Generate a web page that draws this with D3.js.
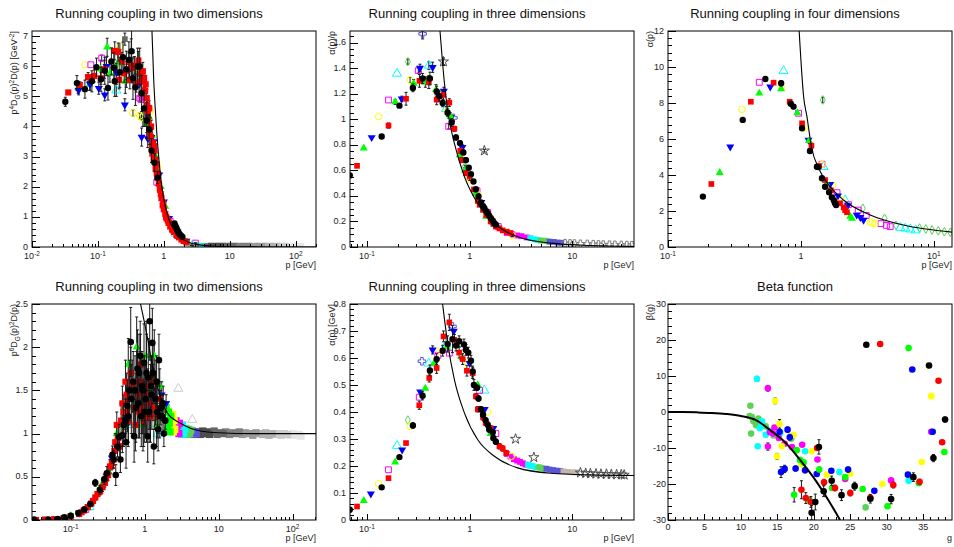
<!DOCTYPE html>
<html>
<head>
<meta charset="utf-8">
<script src="https://cdn.jsdelivr.net/npm/d3@7"></script>
<style>
  body { margin: 0; background: #fff; }
  text { font-family: "Liberation Sans", Arial, Helvetica, sans-serif; }
</style>
</head>
<body>
<svg id="chart" width="954" height="547"></svg>
<script>
// ---------- data: [p, value, error] ----------

// Panel 1: running coupling in 2d, p^4 D_G(p)^2 D(p)
const p1Black = [[0.032,4.82,0.15],[0.048,5.44,0.25],[0.0635,5.24,0.3],[0.081,5.5,0.35],[0.095,5.97,0.3],[0.111,5.57,0.4],[0.127,5.85,0.45],[0.142,5.28,0.4],[0.16,6.16,0.45],[0.174,5.95,0.5],[0.18,5.5,0.5],[0.215,5.8,0.5],[0.24,6.3,0.5],[0.27,5.9,0.6],[0.295,6.21,0.6],[0.324,6.5,1.05],[0.34,5.6,0.7],[0.37,5.3,0.6],[0.4,6.0,0.6],[0.43,6.0,0.6],[0.46,5.1,0.6],[0.5,4.6,0.6],[0.55,4.2,0.6],[0.6,3.9,0.5],[0.65,3.2,0.4],[0.72,2.8,0.3],[0.8,2.3,0.2],[1.45,0.78,0.05],[1.5,0.7,0.05],[1.55,0.63,0.05],[1.6,0.56,0.05],[1.65,0.5,0.05],[1.7,0.45,0.04],[1.8,0.39,0.04],[1.9,0.34,0.03]];
const p1Red = [[0.0355,5.13,0.05],[0.053,5.38,0.1],[0.071,5.64,0.15],[0.088,5.68,0.2],[0.111,5.6,0.2],[0.125,5.9,0.3],[0.18,6.51,0.3],[0.203,6.47,0.3],[0.21,5.55,0.3],[0.23,6.16,0.3],[0.25,5.77,0.3],[0.27,5.85,0.3],[0.295,6.14,0.3],[0.305,5.55,0.3],[0.33,5.95,0.3],[0.36,6.02,0.3],[0.38,5.44,0.3],[0.41,6.19,0.3],[0.43,5.75,0.3],[0.45,5.5,0.3],[0.48,5.83,0.3],[0.5,5.6,0.3],[0.52,5.19,0.3],[0.53,5.4,0.3],[0.55,4.94,0.3],[0.56,4.7,0.2],[0.57,4.5,0.25],[0.58,4.2,0.2],[0.6,4.6,0.25],[0.61,3.8,0.2],[0.63,3.65,0.2],[0.64,4.0,0.2],[0.66,3.3,0.2],[0.67,3.1,0.2],[0.68,3.45,0.2],[0.7,2.9,0.15],[0.71,3.35,0.15],[0.72,3.2,0.15],[0.74,2.9,0.15],[0.75,2.6,0.1],[0.77,2.75,0.1],[0.78,2.45,0.1],[0.8,2.3,0.1],[0.82,2.35,0.1],[0.84,2.1,0.1],[0.87,1.9,0.1],[0.9,1.75,0.08],[0.92,1.62,0.08],[0.96,1.38,0.08],[0.98,1.45,0.06],[1.0,1.25,0.05],[1.05,1.1,0.05],[1.08,1.0,0.05],[1.1,0.95,0.05],[1.15,0.88,0.04],[1.18,0.8,0.04],[1.25,0.68,0.03],[1.33,0.58,0.03],[1.4,0.55,0.03],[1.42,0.5,0.03],[1.55,0.4,0.02],[1.6,0.37,0.02],[1.7,0.32,0.02],[1.85,0.25,0.02],[1.9,0.28,0.02],[2.0,0.2,0.01],[2.2,0.15,0.01]];
const p1Green = [[0.05,5.3,0.2],[0.075,5.4,0.2],[0.11,5.9,0.3],[0.138,6.63,0.3],[0.152,5.77,0.3],[0.2,6.1,0.4],[0.26,5.5,0.4],[0.32,6.51,0.4],[0.4,5.8,0.4],[0.48,4.3,0.3],[0.55,4.1,0.3],[0.6,4.3,0.3],[0.66,3.7,0.2],[0.75,3.0,0.15],[0.83,2.5,0.1],[0.9,2.0,0.1],[1.05,1.35,0.05],[1.3,0.78,0.03],[1.6,0.48,0.02],[1.8,0.35,0.02],[2.3,0.16,0.01]];
const p1Blue = [[0.051,5.2,0.15],[0.076,5.4,0.2],[0.103,5.27,0.2],[0.127,5.05,0.2],[0.135,6.0,0.3],[0.19,5.8,0.3],[0.256,4.72,0.2],[0.3,5.9,0.4],[0.42,5.4,0.4],[0.46,3.65,0.3],[0.52,4.3,0.3],[0.57,3.6,0.3],[0.7,3.5,0.2],[0.85,2.4,0.1],[1.0,1.5,0.05],[1.2,0.95,0.05],[1.6,0.5,0.02],[2.2,0.2,0.01]];
const p1Yellow = [[0.0635,6.05,0],[0.215,6.66,0.1],[0.34,4.45,0.1],[0.43,4.35,0.1],[0.46,4.3,0.1],[0.62,4.5,0.2],[0.8,2.7,0.1],[1.4,0.6,0.03],[2.6,0.06,0.01]];
const p1Magenta = [[0.078,6.05,0],[0.114,6.27,0.1],[0.43,4.94,0.1],[0.45,4.9,0.1],[0.78,2.15,0.1],[1.25,0.85,0.03],[3.0,0.13,0.01]];
const p1Cyan = [[0.19,5.2,0.2],[0.45,5.6,0.2],[1.5,0.45,0.02],[2.7,0.04,0.01]];
const p1Grey = [[0.256,6.9,0.2]];
const p1TailGreen = [[3.1,0.05],[3.4,0.04]];
const p1TailCyan = [[3.7,0.03],[4.0,0.03]];
const p1TailGreen8 = [[4.3,0.03]];
const p1TailBlue9 = [[4.7,0.02]];
const p1TailG12 = [[5.2,0.04],[5.8,0.03],[6.5,0.04],[7.2,0.03],[8,0.04]];
const p1TailG13 = [[9,0.03],[10,0.04],[11,0.03],[12.5,0.04]];
const p1TailG14 = [[14,0.03],[16,0.04],[18,0.03],[20,0.04]];
const p1TailG15 = [[23,0.03],[26,0.04],[30,0.03],[34,0.04]];
const p1TailG16 = [[38,0.03],[43,0.04],[49,0.03],[55,0.04]];
const p1TailG17 = [[62,0.03],[70,0.04],[78,0.03]];
const p1TailG18 = [[88,0.03],[98,0.04],[110,0.03],[120,0.03]];
const p1CurveP = [0.66,0.7,0.74,0.78,0.85,0.93,1.05,1.2,1.4,1.75,2.3,3.5,5,10,30,203];
const p1CurveV = [7.17,5.6,4.6,3.8,2.8,2.0,1.35,0.9,0.6,0.33,0.17,0.07,0.035,0.01,0.002,0];

// Panel 2: running coupling in 3d, alpha(p)/p
const p2Black = [[0.068,0.56,0.01],[0.139,0.865,0.01],[0.207,1.106,0.01],[0.28,1.245,0.03],[0.348,1.318,0.04],[0.41,1.318,0.05],[0.477,1.218,0.04],[0.507,1.18,0.04],[0.546,1.127,0.03],[0.61,1.05,0.03],[0.668,0.975,0.03],[0.736,0.857,0.02],[0.805,0.813,0.02],[0.868,0.74,0.02],[0.92,0.68,0.02],[0.98,0.62,0.01],[1.03,0.57,0.01],[1.09,0.512,0.01],[1.15,0.452,0.01],[1.22,0.395,0.01],[1.29,0.348,0.01],[1.35,0.32,0.01],[1.39,0.303,0.01],[1.45,0.28,0.01],[1.5,0.264,0.01],[1.55,0.245,0.01],[1.61,0.225,0.01],[1.68,0.205,0.01],[1.74,0.186,0.01],[1.8,0.175,0.01]];
const p2Red = [[0.08,0.635,0.01],[0.162,0.95,0.02],[0.24,1.16,0.05],[0.324,1.3,0.05],[0.40,1.29,0.05],[0.477,1.153,0.04],[0.555,1.19,0.04],[0.634,1.13,0.03],[0.71,0.925,0.02],[0.81,0.753,0.02],[0.84,0.68,0.02],[0.92,0.578,0.02],[1.0,0.55,0.01],[1.1,0.45,0.01],[1.2,0.36,0.01],[1.25,0.33,0.01],[1.35,0.29,0.01],[1.45,0.25,0.01],[1.6,0.2,0.01],[1.7,0.18,0.01],[1.8,0.16,0.005],[1.95,0.145,0.005],[2.1,0.13,0.005],[2.3,0.12,0.005],[2.5,0.11,0.005]];
const p2Green = [[0.093,0.774,0],[0.188,1.135,0.02],[0.285,1.28,0.03],[0.37,1.29,0.04],[0.47,1.23,0.04],[0.65,1.02,0.03],[0.8,0.72,0.02],[0.9,0.6,0.02],[1.15,0.42,0.01],[1.45,0.24,0.01],[1.7,0.19,0.01]];
const p2Blue = [[0.111,0.857,0],[0.218,1.16,0.02],[0.328,1.40,0.03],[0.436,1.406,0.04],[0.56,1.22,0.03],[0.85,0.78,0.02],[1.3,0.35,0.01]];
const p2Yellow = [[0.13,1.02,0],[0.263,1.307,0.02],[0.38,1.3,0.03],[0.6,1.06,0.02],[1.0,0.53,0.01],[1.2,0.41,0.01],[2.6,0.09,0.01]];
const p2Magenta = [[0.162,1.15,0],[0.316,1.38,0.02],[0.625,0.944,0.02],[1.18,0.44,0.01],[1.5,0.27,0.01],[1.9,0.16,0.01]];
const p2Cyan = [[0.196,1.357,0],[0.40,1.42,0.03],[0.59,1.08,0.02],[1.4,0.3,0.01]];
const p2Diamond = [[0.25,1.45,0.02],[0.9,0.63,0.01]];
const p2Cross = [[0.348,1.668,0.04],[0.694,1.01,0.02]];
const p2Star = [[1.39,0.753,0.01],[0.555,1.45,0.03]];
const p2TailMagenta = [[2.3,0.11],[2.6,0.1],[2.9,0.09],[3.2,0.085],[3.6,0.075]];
const p2TailCyan = [[3.9,0.07],[4.3,0.06],[4.6,0.055]];
const p2TailGreen8 = [[4.9,0.05],[5.3,0.05],[5.7,0.045]];
const p2TailBlue9 = [[6.0,0.042],[6.6,0.04],[7.2,0.035],[7.8,0.033]];
const p2TailGrey = [[8.5,0.03],[9.5,0.028],[10.5,0.027],[12,0.025],[14,0.024],[16,0.022],[18,0.02],[20,0.019],[23,0.018],[26,0.017],[30,0.016],[34,0.015],[38,0.014]];
const p2CurveP = [0.514,0.55,0.61,0.71,0.89,1.2,1.74,2.93,6.2,15,40];
const p2CurveV = [1.69,1.4,1.07,0.81,0.55,0.34,0.186,0.08,0.03,0.012,0.005];

// Panel 3: running coupling in 4d, alpha(p)
const p3Black = [[0.183,2.8],[0.365,7.06],[0.54,9.33,0.12],[0.71,9.1,0.15],[0.84,7.96],[0.88,7.8,0.12],[1.02,6.6],[1.17,5.33],[1.32,4.46],[1.35,4.44],[1.44,3.82],[1.52,3.35],[1.63,3.04],[1.71,2.76],[1.77,2.6],[1.8,2.45],[1.84,2.33]];
const p3Red = [[0.212,3.5],[0.42,8.07],[0.623,9.13],[0.823,8.07],[1.02,6.87],[1.2,5.63],[1.37,4.5],[1.52,3.72],[1.68,3.15],[1.97,2.43],[2.1,2.2],[2.15,2.05],[2.22,1.93]];
const p3Green = [[0.245,4.13],[0.486,8.54],[0.71,8.78],[0.94,7.45],[1.15,5.9],[1.56,3.5],[2.35,1.7],[2.42,1.59]];
const p3Blue = [[0.294,5.57],[0.588,8.9],[1.14,5.94],[1.66,3.48],[1.9,2.85],[2.25,2.3],[2.63,1.78],[2.8,1.65],[2.96,1.5]];
const p3Yellow = [[0.36,7.65],[0.71,8.9],[1.06,6.6],[1.44,4.58],[1.73,3.4],[2.0,2.65],[3.32,1.37],[3.45,1.35],[3.6,1.3]];
const p3Magenta = [[0.486,9.15],[0.96,7.43],[1.44,4.6],[1.87,3.02],[2.28,2.35],[2.7,2.05],[3.1,1.75],[4.0,1.3],[4.4,1.2],[4.7,1.13]];
const p3Cyan = [[0.74,9.78],[1.48,4.45],[2.15,2.6],[5.6,1.07],[6.1,1.03],[6.65,0.98],[7.3,0.93]];
const p3Diamond = [[1.46,8.17,0.15],[2.92,2.15],[4.26,1.59],[5.2,1.2],[7.8,1.05],[8.7,1.0],[9.7,0.95],[10.8,0.9],[12,0.85],[13.3,0.82]];
const p3CurveP = [0.97,1.05,1.11,1.2,1.38,1.66,2.09,3.32,5.9,13.9];
const p3CurveV = [12,8.3,7.24,5.57,4.28,3.35,2.61,1.78,1.22,0.82];

// Panel 4: running coupling in 2d, p^6 D_G(p)^2 D(p)
const p4Black = [[0.032,0.004,0.005],[0.05,0.005,0.005],[0.067,0.01,0.01],[0.082,0.03,0.01],[0.1,0.05,0.01],[0.127,0.08,0.02],[0.153,0.12,0.03],[0.184,0.185,0.03],[0.215,0.43,0.04],[0.248,0.35,0.05],[0.284,0.47,0.06],[0.308,0.54,0.08],[0.367,0.756,0.1],[0.38,0.7,0.1],[0.407,0.52,0.12],[0.43,0.85,0.12],[0.45,0.96,0.15],[0.47,0.7,0.15],[0.5,0.98,0.2],[0.52,1.1,0.25],[0.55,1.15,0.25],[0.56,0.9,0.3],[0.585,1.32,0.3],[0.6,1.2,0.3],[0.62,1.5,0.35],[0.648,2.06,0.4],[0.66,1.4,0.4],[0.7,1.6,0.35],[0.72,0.97,0.3],[0.74,1.5,0.4],[0.76,1.3,0.4],[0.8,1.75,0.45],[0.82,1.35,0.4],[0.84,1.7,0.45],[0.87,1.9,0.4],[0.9,1.2,0.35],[0.92,1.55,0.4],[0.95,1.5,0.4],[0.98,1.82,0.45],[1.0,1.25,0.35],[1.03,1.4,0.4],[1.06,1.7,0.45],[1.1,0.97,0.3],[1.12,1.65,0.45],[1.15,1.25,0.35],[1.17,2.3,0.45],[1.22,1.55,0.35],[1.25,1.45,0.4],[1.27,2.05,0.4],[1.3,1.7,0.35],[1.33,0.85,0.2],[1.4,1.4,0.3],[1.45,1.6,0.3],[1.48,1.25,0.3],[1.52,1.05,0.25],[1.56,1.85,0.3],[1.6,1.2,0.25],[1.65,1.3,0.2],[1.72,1.2,0.2],[1.78,1.35,0.2],[1.82,1.0,0.15],[1.9,1.15,0.1]];
const p4Red = [[0.034,0.0,0.005],[0.045,0.005,0.005],[0.06,0.01,0.005],[0.08,0.02,0.01],[0.1,0.04,0.01],[0.13,0.07,0.02],[0.14,0.09,0.02],[0.15,0.11,0.02],[0.17,0.15,0.02],[0.19,0.19,0.03],[0.2,0.22,0.03],[0.215,0.26,0.03],[0.23,0.3,0.03],[0.25,0.33,0.04],[0.27,0.38,0.05],[0.29,0.43,0.05],[0.3,0.48,0.06],[0.32,0.52,0.06],[0.34,0.62,0.08],[0.36,0.66,0.08],[0.38,0.7,0.1],[0.39,0.8,0.1],[0.4,0.9,0.1],[0.42,1.1,0.15],[0.44,0.95,0.15],[0.46,0.85,0.15],[0.48,1.15,0.2],[0.5,1.35,0.2],[0.52,1.25,0.2],[0.55,1.6,0.25],[0.57,1.45,0.25],[0.58,1.25,0.2],[0.6,1.15,0.3],[0.62,1.4,0.3],[0.65,1.7,0.3],[0.68,1.55,0.3],[0.72,1.3,0.3],[0.75,1.1,0.3],[0.78,1.6,0.35],[0.8,1.45,0.35],[0.85,1.25,0.3],[0.88,1.8,0.35],[0.9,1.6,0.3],[0.93,1.3,0.3],[0.97,1.15,0.3],[1.0,1.55,0.35],[1.06,1.2,0.3],[1.1,1.45,0.3],[1.15,1.35,0.3],[1.2,1.2,0.3],[1.25,1.6,0.3],[1.3,1.45,0.3],[1.35,1.3,0.25],[1.42,1.6,0.25],[1.5,1.2,0.2],[1.6,1.4,0.2],[1.7,1.3,0.15]];
const p4Green = [[0.1,0.05],[0.17,0.14],[0.26,0.4],[0.33,0.55],[0.42,1.0,0.1],[0.52,1.1,0.15],[0.6,1.8,0.3],[0.7,1.3,0.3],[0.78,2.0,0.35],[0.87,1.6,0.35],[0.95,1.1,0.3],[1.05,1.9,0.4],[1.2,1.5,0.3],[1.35,1.9,0.3],[1.45,1.1,0.25],[1.6,1.55,0.2],[1.75,1.3,0.15]];
const p4Blue = [[0.13,0.08],[0.36,0.72,0.05],[0.55,1.2,0.2],[0.9,1.3,0.3],[1.3,1.5,0.3],[1.7,1.45,0.15],[1.95,1.35,0.1]];
const p4Yellow = [[0.25,0.35],[0.45,1.05],[0.9,1.4]];
const p4Magenta = [[0.16,0.12],[0.5,0.92],[1.05,1.3]];
const p4Cyan = [[0.18,0.15],[0.6,1.1],[1.5,1.0]];
const p4LightTri = [[2.85,1.52],[4.4,1.16]];
const p4BandGreen = [[1.95,1.3],[2.0,1.15],[2.05,1.05],[2.1,1.25],[2.15,1.12],[2.2,1.02],[2.25,1.2]];
const p4BandYellow = [[2.35,1.1],[2.4,1.22],[2.45,1.02],[2.5,1.15],[2.55,1.05]];
const p4BandMagenta = [[2.65,1.15],[2.7,1.04],[2.8,1.1],[2.9,1.0],[2.95,1.12]];
const p4BandCyan = [[3.05,1.08],[3.15,0.99],[3.25,1.1],[3.35,1.0],[3.5,1.05]];
const p4BandGreen8 = [[3.6,1.06],[3.75,0.99],[3.9,1.05],[4.05,1.0],[4.2,1.04]];
const p4BandBlue9 = [[4.4,1.03],[4.6,0.99],[4.8,1.02],[5.0,1.0]];
const p4BandG12 = [[5.3,1.02],[5.7,0.99],[6.1,1.03],[6.5,1.0],[7,1.02],[7.5,0.99]];
const p4BandG13 = [[8,1.01],[8.7,1.03],[9.5,0.99],[10.5,1.01],[11.5,1.0]];
const p4BandG14 = [[12.5,1.02],[14,0.99],[15.5,1.01],[17,1.0],[19,1.02]];
const p4BandG15 = [[21,0.99],[23,1.01],[26,1.0],[29,0.98],[32,1.01]];
const p4BandG16 = [[35,1.0],[39,0.99],[43,1.01],[48,0.98],[53,1.0]];
const p4BandG17 = [[58,0.99],[64,1.0],[70,0.98],[77,1.0],[85,0.99]];
const p4BandG18 = [[93,0.98],[102,1.0],[112,0.98],[122,0.99],[130,0.97]];
const p4CurveP = [0.88,1.08,1.3,1.6,2.02,3.05,5.67,10,30,207];
const p4CurveV = [2.5,2.13,1.75,1.45,1.24,1.12,1.03,1.01,1.0,1.0];

// Panel 5: running coupling in 3d, alpha(p)
const p5Black = [[0.068,0.038],[0.139,0.121],[0.207,0.233],[0.28,0.35,0.01],[0.348,0.46,0.015],[0.41,0.554,0.02],[0.477,0.596,0.02],[0.546,0.627,0.02],[0.61,0.652,0.03],[0.68,0.67,0.05],[0.736,0.646,0.02],[0.79,0.662,0.02],[0.88,0.65,0.02],[0.92,0.63,0.02],[0.97,0.62,0.02],[1.03,0.59,0.02],[1.07,0.55,0.02],[1.1,0.5,0.02],[1.18,0.49,0.01],[1.22,0.45,0.01],[1.29,0.41,0.01],[1.35,0.39,0.01],[1.43,0.37,0.01],[1.5,0.353,0.01],[1.55,0.335,0.01],[1.68,0.325,0.01],[1.7,0.304,0.01],[1.8,0.29,0.01]];
const p5Red = [[0.08,0.05],[0.162,0.155],[0.24,0.285],[0.323,0.425,0.015],[0.404,0.526,0.015],[0.477,0.563,0.02],[0.556,0.68,0.02],[0.634,0.732,0.03],[0.71,0.667,0.02],[0.79,0.62,0.02],[0.855,0.596,0.02],[0.94,0.553,0.02],[1.07,0.544,0.02],[1.15,0.458,0.01],[1.2,0.41,0.01],[1.35,0.38,0.01],[1.43,0.36,0.01],[1.6,0.34,0.01],[1.95,0.273,0.01],[2.1,0.265,0.01],[2.27,0.248,0.01]];
const p5Green = [[0.093,0.072],[0.188,0.214],[0.37,0.487],[0.45,0.58],[0.6,0.64],[0.85,0.6],[1.2,0.5],[1.6,0.32]];
const p5Blue = [[0.109,0.097],[0.22,0.26],[0.33,0.475],[0.436,0.63,0.015],[0.7,0.7],[1.0,0.58],[1.4,0.41],[1.7,0.34]];
const p5Yellow = [[0.13,0.134],[0.263,0.347],[0.51,0.625],[0.95,0.58],[1.5,0.4],[2.55,0.236]];
const p5Magenta = [[0.162,0.186],[0.323,0.455],[0.49,0.61],[0.634,0.618],[1.25,0.48],[1.8,0.32]];
const p5Cyan = [[0.196,0.275],[0.4,0.58],[0.59,0.65],[1.39,0.48]];
const p5Diamond = [[0.25,0.37]];
const p5Cross = [[0.343,0.588],[0.68,0.717]];
const p5Star = [[2.8,0.30],[4.22,0.232]];
const p5TailMagenta = [[2.3,0.245],[2.5,0.235],[2.7,0.225],[2.9,0.22],[3.1,0.215],[3.3,0.21],[3.5,0.205]];
const p5TailCyan = [[3.7,0.205],[3.9,0.2],[4.1,0.2],[4.4,0.195]];
const p5TailGreen8 = [[4.7,0.195],[5.0,0.193],[5.3,0.19]];
const p5TailBlue9 = [[5.6,0.19],[6.0,0.187],[6.5,0.185],[7.0,0.183],[7.6,0.182]];
const p5TailTan = [[8.2,0.18],[9,0.178],[10,0.177],[11,0.176]];
const p5TailGrey = [[12,0.175],[13.5,0.173],[15,0.172],[17,0.171],[19,0.17],[21.5,0.17],[24,0.169],[27,0.168],[30,0.168],[32,0.167]];
const p5CurveP = [0.545,0.61,0.71,0.89,1.2,1.74,2.93,6.2,15,40];
const p5CurveV = [0.8,0.656,0.52,0.396,0.297,0.236,0.193,0.173,0.167,0.165];

// Panel 6: beta function, [g, beta, error]
const p6Black = [[27.2,18.7,0.5],[35.8,12.9,0.6],[38.0,-2.1,0.7],[36.4,-12.8,1.0],[33.65,-18.1,1.2],[30.6,-24.2,1.3],[27.75,-24.1,1.2],[25.6,-20.6,1.1],[23.8,-23.1,1.5],[22.45,-19.1,1.3],[21.35,-22.0,1.5],[20.7,-9.7,2.0],[20.2,-25.0,2.2],[19.7,-28.0,2.0]];
const p6Red = [[29.1,18.9,0.4],[37.1,8.7,0.5],[37.6,-8.4,0.5],[34.5,-19.4,0.7],[30.9,-20.3,0.8],[27.75,-23.8,0.7],[25.0,-22.5,0.8],[22.9,-21.1,0.8],[21.4,-19.5,0.8],[20.45,-10.0,0.6],[19.6,-25.0,1.5],[18.9,-23.9,1.5],[18.3,-21.6,2.5]];
const p6Green = [[33.0,17.8,0.4],[37.9,-11.1,0.5],[34.4,-19.8,0.5],[30.1,-26.2,0.6],[26.7,-21.4,0.6],[24.3,-18.1,0.7],[22.5,-21.1,0.6],[20.75,-16.0,0.7],[19.4,-24.6,0.8],[18.6,-14.0,0.6],[18.1,-13.3,0.6],[17.65,-10.6,0.7],[17.3,-23.0,2.0]];
const p6Green8 = [[27.1,-26.5,0.3],[16.9,-7.4,0.4],[14.5,-6.5,0.4],[13.4,-4.0,0.3],[12.4,-1.8,0.3],[12.1,-3.7,0.3],[11.9,-2.8,0.3],[11.7,-2.5,0.3],[11.5,-1.4,0.3],[11.2,-1.1,0.3],[11.3,1.75,0.3],[11.4,-6.0,0.3]];
const p6Blue = [[33.5,11.8,0.4],[36.3,-5.5,0.5],[32.9,-17.4,0.5],[28.3,-21.9,0.5],[24.7,-16.0,0.7],[22.4,-16.3,0.6],[20.4,-17.2,0.7],[18.8,-16.2,0.7],[17.5,-15.7,0.7],[16.7,-7.0,0.8],[16.4,-4.9,0.7],[16.0,-15.8,1.0],[15.5,-16.7,1.5],[15.3,-5.5,0.6]];
const p6Yellow = [[36.1,4.4,0.4],[34.8,-13.9,0.4],[29.4,-20.0,0.4],[25.0,-17.1,0.4],[21.8,-17.4,0.4],[19.7,-10.9,0.4],[18.3,-14.6,0.4],[17.2,-6.3,0.4],[15.6,-9.5,0.5],[15.3,-3.3,1.2],[14.95,-12.3,0.8],[14.7,3.1,0.8]];
const p6Magenta = [[36.1,-5.5,0.4],[30.6,-19.0,0.4],[24.3,-18.6,0.4],[20.5,-13.2,0.4],[18.4,-9.1,0.4],[17.0,-9.7,0.4],[16.0,-8.8,0.4],[15.2,-7.2,0.5],[14.6,-4.3,0.5],[14.4,-6.0,0.4],[14.0,-5.6,0.4],[13.7,-9.6,1.0],[13.7,6.6,0.8]];
const p6Cyan = [[33.0,-19.1,0.4],[23.5,-16.7,0.4],[18.8,-10.9,0.4],[15.4,-5.8,0.4],[13.9,-5.2,0.4],[13.4,-6.3,0.4],[12.9,-2.6,0.4],[12.8,-3.8,0.4],[12.6,-4.5,0.4],[12.2,9.2,0.7],[12.3,-9.5,0.4]];
const p6CurveG = [0,2,4,6,8,10,12,14,16,18,20,22,23.6];
const p6CurveV = [0,-0.02,-0.1,-0.25,-0.55,-1.1,-2.2,-5,-8.3,-13,-18.3,-24.5,-30];

// tick labels of the log axes: [value, mantissa, exponent]
const xLabels2d = [[0.01,"10","-2"],[0.1,"10","-1"],[1,"1",""],[10,"10",""],[100,"10","2"]];
const xLabels3d = [[0.1,"10","-1"],[1,"1",""],[10,"10",""]];
const xLabels4d = [[0.1,"10","-1"],[1,"1",""],[10,"10","1"]];
const xLabels2dB = [[0.1,"10","-1"],[1,"1",""],[10,"10",""],[100,"10","2"]];

// ---------- styles ----------
const col = {
  k: "#000000", r: "#ff0000", g: "#00ff00", b: "#0000ff", y: "#ffff00", m: "#ff00ff", c: "#00ffff",
  g8: "#59d454", b9: "#5954d8", tan: "#c0b6ac",
  g12: "#4c4c4c", g13: "#666666", g14: "#7f7f7f", g15: "#999999", g16: "#b2b2b2", g17: "#cccccc", g18: "#e5e5e5"
};
const shapes = {
  circle:  { t: d3.symbolCircle,   a: 32, fill: true },
  square:  { t: d3.symbolSquare,   a: 32, fill: true },
  triUp:   { t: d3.symbolTriangle, a: 28, fill: true },
  triDown: { t: d3.symbolTriangle, a: 28, fill: true, rot: true },
  oCircle: { t: d3.symbolCircle,   a: 34, fill: false },
  oSquare: { t: d3.symbolSquare,   a: 34, fill: false },
  oTri:    { t: d3.symbolTriangle, a: 36, fill: false },
  oDiamond:{ t: d3.symbolDiamond,  a: 22, fill: false },
  oCross:  { t: d3.symbolCross,    a: 32, fill: false },
  oStar:   { t: d3.symbolStar,     a: 32, fill: false }
};

const svg = d3.select("#chart");

// text with super/subscripts, parts = [[text, shift]] where shift 1 = sup, -1 = sub
function rich(sel, parts) {
  let prev = 0;
  parts.forEach(([t, s]) => {
    const ts = sel.append("tspan").text(t);
    const dy = (prev - s) * 3.3;
    if (dy) ts.attr("dy", dy);
    if (s) ts.attr("font-size", "0.72em");
    prev = s;
  });
}

function linTicks(d, maj, min) {
  const out = [], r = Math.round(maj / min);
  for (let n = Math.ceil(d[0] / min - 1e-9); n <= Math.floor(d[1] / min + 1e-9); n++) {
    out.push([n * min, ((n % r) + r) % r === 0]);
  }
  return out;
}

function drawPanel(P) {
  const xs = (P.log ? d3.scaleLog() : d3.scaleLinear()).domain(P.xd).range([P.L, P.R]);
  const ys = d3.scaleLinear().domain(P.yd).range([P.B, P.T]);
  const g = svg.append("g");
  const clipId = "clip-" + P.id;
  g.append("clipPath").attr("id", clipId).append("rect")
    .attr("x", P.L).attr("y", P.T).attr("width", P.R - P.L).attr("height", P.B - P.T);
  const plot = g.append("g").attr("clip-path", `url(#${clipId})`);

  P.series.forEach(s => {
    const sh = shapes[s.m];
    const eb = s.d.filter(d => d[2] > 0);
    const eg = plot.append("g").attr("stroke", "#1a1a1a").attr("stroke-width", 1);
    eg.selectAll("line.stem").data(eb).join("line").attr("class", "stem")
      .attr("x1", d => xs(d[0])).attr("x2", d => xs(d[0]))
      .attr("y1", d => ys(d[1] - d[2])).attr("y2", d => ys(d[1] + d[2]));
    eg.selectAll("line.cap").data(eb.flatMap(d => [[d[0], d[1] - d[2]], [d[0], d[1] + d[2]]]))
      .join("line").attr("class", "cap")
      .attr("x1", d => xs(d[0]) - 1.5).attr("x2", d => xs(d[0]) + 1.5)
      .attr("y1", d => ys(d[1])).attr("y2", d => ys(d[1]));
    plot.append("g").selectAll("path").data(s.d).join("path")
      .attr("transform", d => `translate(${xs(d[0])},${ys(d[1])})` + (sh.rot ? " rotate(180)" : ""))
      .attr("d", d3.symbol().type(sh.t).size(s.a || sh.a))
      .attr("fill", sh.fill ? s.c : "none")
      .attr("stroke", sh.fill ? "none" : s.c)
      .attr("stroke-width", 1);
  });

  if (P.curve) {
    const pts = P.curve[0].map((x, i) => [x, P.curve[1][i]]);
    plot.append("path").datum(pts)
      .attr("fill", "none").attr("stroke", "#000").attr("stroke-width", P.curveW || 1.1)
      .attr("d", d3.line().x(d => xs(d[0])).y(d => ys(d[1])).curve(d3.curveMonotoneX));
  }

  // frame
  g.append("rect").attr("x", P.L).attr("y", P.T).attr("width", P.R - P.L).attr("height", P.B - P.T)
    .attr("fill", "none").attr("stroke", "#000").attr("stroke-width", 1);

  // x ticks
  let xt = [];
  if (P.log) {
    for (let k = Math.floor(Math.log10(P.xd[0])); k <= Math.ceil(Math.log10(P.xd[1])); k++) {
      for (let m = 1; m <= 9; m++) {
        const v = m * Math.pow(10, k);
        if (v >= P.xd[0] * 0.999 && v <= P.xd[1] * 1.001) xt.push([v, m === 1]);
      }
    }
  } else xt = linTicks(P.xd, P.xMaj, P.xMin);
  g.append("g").attr("stroke", "#000").selectAll("line").data(xt).join("line")
    .attr("x1", d => Math.round(xs(d[0])) + 0.5).attr("x2", d => Math.round(xs(d[0])) + 0.5)
    .attr("y1", P.B).attr("y2", d => P.B - (d[1] ? 6 : 3));

  const yt = linTicks(P.yd, P.yMaj, P.yMin);
  g.append("g").attr("stroke", "#000").selectAll("line").data(yt).join("line")
    .attr("y1", d => Math.round(ys(d[0])) + 0.5).attr("y2", d => Math.round(ys(d[0])) + 0.5)
    .attr("x1", P.L).attr("x2", d => P.L + (d[1] ? 8 : 4));

  // labels
  const lab = g.append("g").attr("font-size", 9).attr("fill", "#222");
  lab.selectAll("text.yl").data(yt.filter(d => d[1])).join("text").attr("class", "yl")
    .attr("x", P.L - P.ylOff).attr("y", d => ys(d[0]) + 2.6).attr("text-anchor", "end")
    .text(d => String(+d[0].toFixed(3)));
  const xlBase = P.B + P.xlOff;
  if (P.xLabels) {
    P.xLabels.forEach(([v, m, e]) => {
      const t = lab.append("text").attr("x", xs(v)).attr("y", xlBase).attr("text-anchor", "middle");
      rich(t, e ? [[m, 0], [e, 1]] : [[m, 0]]);
    });
  } else {
    lab.selectAll("text.xl").data(xt.filter(d => d[1])).join("text").attr("class", "xl")
      .attr("x", d => xs(d[0])).attr("y", xlBase).attr("text-anchor", "middle")
      .text(d => String(+d[0].toFixed(3)));
  }

  // titles
  g.append("text").attr("x", P.ox + 159).attr("y", P.oy + 18).attr("text-anchor", "middle")
    .attr("font-size", 13).attr("fill", "#111").text(P.title);
  g.append("text").attr("x", P.R).attr("y", P.B + 21).attr("text-anchor", "end")
    .attr("font-size", 9).attr("fill", "#222").text(P.xTitle);
  const yT = g.append("text").attr("transform", `translate(${P.ox + 17},${P.T}) rotate(-90)`)
    .attr("text-anchor", "end").attr("font-size", 9).attr("fill", "#222");
  rich(yT, P.yTitle);
}

const S = (d, m, c, a) => ({ d, m, c, a });
const BAND1 = 38, BAND4 = 52, BAND3 = 34;

drawPanel({
  id: 1, ox: 0, oy: 0, L: 32, R: 316, T: 31, B: 247, log: true, xd: [0.01, 203], yd: [0, 7.17],
  yMaj: 1, yMin: 0.2, xlOff: 12, ylOff: 4, xLabels: xLabels2d,
  title: "Running coupling in two dimensions", xTitle: "p [GeV]",
  yTitle: [["p",0],["4",1],["D",0],["G",-1],["(p)",0],["2",1],["D(p) [GeV",0],["-2",1],["]",0]],
  series: [
    S(p1TailGreen, "square", col.g, BAND1), S(p1TailCyan, "square", col.c, BAND1),
    S(p1TailGreen8, "square", col.g8, BAND1), S(p1TailBlue9, "square", col.b9, BAND1),
    S(p1TailG12, "square", col.g12, BAND1), S(p1TailG13, "square", col.g13, BAND1),
    S(p1TailG14, "square", col.g14, BAND1), S(p1TailG15, "square", col.g15, BAND1),
    S(p1TailG16, "square", col.g16, BAND1), S(p1TailG17, "square", col.g17, BAND1),
    S(p1TailG18, "square", col.g18, BAND1),
    S(p1Green, "triUp", col.g), S(p1Blue, "triDown", col.b), S(p1Yellow, "oCircle", col.y),
    S(p1Magenta, "oSquare", col.m), S(p1Cyan, "oTri", col.c), S(p1Grey, "square", col.g13),
    S(p1Red, "square", col.r, 38), S(p1Black, "circle", col.k)
  ],
  curve: [p1CurveP, p1CurveV]
});

drawPanel({
  id: 2, ox: 318, oy: 0, L: 350, R: 634, T: 31, B: 247, log: true, xd: [0.0683, 39.9], yd: [0, 1.69],
  yMaj: 0.2, yMin: 0.05, xlOff: 12, ylOff: 4, xLabels: xLabels3d,
  title: "Running coupling in three dimensions", xTitle: "p [GeV]",
  yTitle: [["\u03b1(p)/p",0]],
  series: [
    S(p2TailMagenta, "square", col.m, BAND3), S(p2TailCyan, "square", col.c, BAND3),
    S(p2TailGreen8, "square", col.g8, BAND3), S(p2TailBlue9, "square", col.b9, BAND3),
    S(p2TailGrey, "oCross", col.g14),
    S(p2Star, "oStar", col.g12), S(p2Cross, "oCross", col.b9), S(p2Diamond, "oDiamond", col.g8),
    S(p2Cyan, "oTri", col.c), S(p2Magenta, "oSquare", col.m), S(p2Yellow, "oCircle", col.y),
    S(p2Blue, "triDown", col.b), S(p2Green, "triUp", col.g), S(p2Red, "square", col.r),
    S(p2Black, "circle", col.k)
  ],
  curve: [p2CurveP, p2CurveV]
});

drawPanel({
  id: 3, ox: 636, oy: 0, L: 668, R: 952, T: 31, B: 247, log: true, xd: [0.1, 13.7], yd: [0, 12],
  yMaj: 2, yMin: 0.4, xlOff: 12, ylOff: 4, xLabels: xLabels4d,
  title: "Running coupling in four dimensions", xTitle: "p [GeV]",
  yTitle: [["\u03b1(p)",0]],
  series: [
    S(p3Diamond, "oDiamond", col.g8), S(p3Cyan, "oTri", col.c), S(p3Magenta, "oSquare", col.m),
    S(p3Yellow, "oCircle", col.y), S(p3Blue, "triDown", col.b), S(p3Green, "triUp", col.g),
    S(p3Red, "square", col.r), S(p3Black, "circle", col.k)
  ],
  curve: [p3CurveP, p3CurveV]
});

drawPanel({
  id: 4, ox: 0, oy: 273, L: 32, R: 316, T: 304, B: 520, log: true, xd: [0.03, 207], yd: [0, 2.5],
  yMaj: 0.5, yMin: 0.1, xlOff: 12, ylOff: 4, xLabels: xLabels2dB,
  title: "Running coupling in two dimensions", xTitle: "p [GeV]",
  yTitle: [["p",0],["6",1],["D",0],["G",-1],["(p)",0],["2",1],["D(p)",0]],
  series: [
    S(p4BandG18, "square", col.g18, BAND4), S(p4BandG17, "square", col.g17, BAND4),
    S(p4BandG16, "square", col.g16, BAND4), S(p4BandG15, "square", col.g15, BAND4),
    S(p4BandG14, "square", col.g14, BAND4), S(p4BandG13, "square", col.g13, BAND4),
    S(p4BandG12, "square", col.g12, BAND4), S(p4BandBlue9, "square", col.b9, BAND4),
    S(p4BandGreen8, "square", col.g8, BAND4), S(p4BandCyan, "square", col.c, BAND4),
    S(p4BandMagenta, "square", col.m, BAND4), S(p4BandYellow, "square", col.y, BAND4),
    S(p4BandGreen, "square", col.g, BAND4), S(p4LightTri, "oTri", col.g17),
    S(p4Cyan, "oTri", col.c), S(p4Magenta, "oSquare", col.m), S(p4Yellow, "oCircle", col.y),
    S(p4Blue, "triDown", col.b), S(p4Green, "triUp", col.g), S(p4Red, "square", col.r, 38),
    S(p4Black, "circle", col.k, 34)
  ],
  curve: [p4CurveP, p4CurveV]
});

drawPanel({
  id: 5, ox: 318, oy: 273, L: 350, R: 634, T: 304, B: 520, log: true, xd: [0.0683, 39.9], yd: [0, 0.8],
  yMaj: 0.1, yMin: 0.02, xlOff: 12, ylOff: 4, xLabels: xLabels3d,
  title: "Running coupling in three dimensions", xTitle: "p [GeV]",
  yTitle: [["\u03b1(p) [GeV]",0]],
  series: [
    S(p5TailMagenta, "square", col.m, BAND3), S(p5TailCyan, "square", col.c, BAND3),
    S(p5TailGreen8, "circle", col.g8, BAND3), S(p5TailBlue9, "square", col.b9, BAND3),
    S(p5TailTan, "square", col.tan, BAND3), S(p5TailGrey, "oStar", col.g12),
    S(p5Star, "oStar", col.g12), S(p5Cross, "oCross", col.b9), S(p5Diamond, "oDiamond", col.g8),
    S(p5Cyan, "oTri", col.c), S(p5Magenta, "oSquare", col.m), S(p5Yellow, "oCircle", col.y),
    S(p5Blue, "triDown", col.b), S(p5Green, "triUp", col.g), S(p5Red, "square", col.r),
    S(p5Black, "circle", col.k)
  ],
  curve: [p5CurveP, p5CurveV]
});

drawPanel({
  id: 6, ox: 636, oy: 273, L: 668, R: 952, T: 304, B: 520, log: false, xd: [0, 38.95], yd: [-30, 30],
  xMaj: 5, xMin: 1, yMaj: 10, yMin: 2, xlOff: 10, ylOff: 2,
  title: "Beta function", xTitle: "g",
  yTitle: [["\u03b2(g)",0]],
  series: [
    S(p6Green8, "circle", col.g8, 34), S(p6Cyan, "circle", col.c, 34), S(p6Magenta, "circle", col.m, 34),
    S(p6Yellow, "circle", col.y, 34), S(p6Blue, "circle", col.b, 34), S(p6Green, "circle", col.g, 34),
    S(p6Red, "circle", col.r, 34), S(p6Black, "circle", col.k, 34)
  ],
  curve: [p6CurveG, p6CurveV], curveW: 2
});
</script>
</body>
</html>
